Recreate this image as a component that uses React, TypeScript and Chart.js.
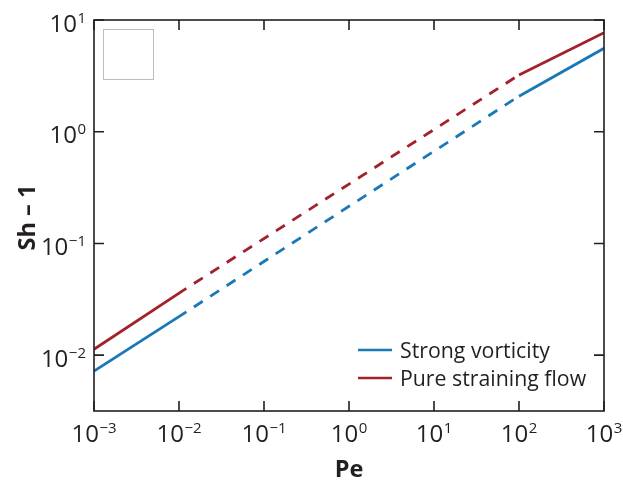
import React, { useEffect, useRef } from "react";
import { Chart, registerables } from "chart.js";

Chart.register(...registerables);

// ---- data ----
const pe = [1e-3, 1.22e-2, 1, 1e2, 1e3];
const strongVorticity = [0.0072, 0.0244, 0.215, 2.08, 5.58];
const pureStraining = [0.0113, 0.0396, 0.34, 3.22, 7.7];
// segment i joins pe[i] and pe[i+1]; true = dashed (asymptotic/interpolated part)
const dashedSegment = [false, true, true, false];
const seriesLabels = ["Strong vorticity", "Pure straining flow"];
const xTickExponents = [-3, -2, -1, 0, 1, 2, 3];
const yTickExponents = [-2, -1, 0, 1];
const xTitle = "Pe";
const yTitle = "Sh – 1";

const INK = "#231f20";
const BLUE = "#1a78b6";
const RED = "#a3212b";
const FONT = '"Open Sans", "Noto Sans", sans-serif';

function expText(e: number) {
  return e < 0 ? "\u2212" + Math.abs(e) : String(e);
}

function drawPower(ctx: CanvasRenderingContext2D, e: number, x: number, baseline: number, align: "center" | "right") {
  const base = "10";
  const sup = expText(e);
  ctx.font = `24px ${FONT}`;
  const wb = ctx.measureText(base).width;
  ctx.font = `15px ${FONT}`;
  const ws = ctx.measureText(sup).width;
  const gap = 0.5;
  const total = wb + gap + ws;
  const start = align === "center" ? x - total / 2 : x - total;
  ctx.textAlign = "left";
  ctx.textBaseline = "alphabetic";
  ctx.font = `24px ${FONT}`;
  ctx.fillText(base, start, baseline);
  ctx.font = `15px ${FONT}`;
  ctx.fillText(sup, start + wb + gap, baseline - 9);
}

const decorPlugin = {
  id: "decor",
  afterDatasetsDraw(chart: any) {
    const { ctx, chartArea: a, scales } = chart;
    const xs = scales.x;
    const ys = scales.y;
    ctx.save();

    // small empty box at top-left
    ctx.strokeStyle = "#bdbdbd";
    ctx.lineWidth = 1;
    ctx.strokeRect(a.left + 9.5, a.top + 9.5, 50, 50);

    // frame
    ctx.strokeStyle = INK;
    ctx.lineWidth = 1.6;
    ctx.strokeRect(a.left, a.top, a.right - a.left, a.bottom - a.top);

    // inward ticks, mirrored
    const T = 10;
    ctx.beginPath();
    xTickExponents.forEach((e) => {
      const px = xs.getPixelForValue(10 ** e);
      ctx.moveTo(px, a.bottom);
      ctx.lineTo(px, a.bottom - T);
      ctx.moveTo(px, a.top);
      ctx.lineTo(px, a.top + T);
    });
    yTickExponents.forEach((e) => {
      const py = ys.getPixelForValue(10 ** e);
      ctx.moveTo(a.left, py);
      ctx.lineTo(a.left + T, py);
      ctx.moveTo(a.right, py);
      ctx.lineTo(a.right - T, py);
    });
    ctx.stroke();

    // tick labels
    ctx.fillStyle = INK;
    xTickExponents.forEach((e) => {
      const px = xs.getPixelForValue(10 ** e);
      drawPower(ctx, e, px, a.bottom + 31, "center");
    });
    yTickExponents.forEach((e) => {
      const py = ys.getPixelForValue(10 ** e);
      drawPower(ctx, e, a.left - 8, py + 11.5, "right");
    });

    // axis titles
    ctx.font = `bold 23.5px ${FONT}`;
    ctx.textAlign = "center";
    ctx.textBaseline = "alphabetic";
    ctx.fillText(xTitle, (a.left + a.right) / 2, a.bottom + 66);
    ctx.save();
    ctx.translate(35, (a.top + a.bottom) / 2 + 2);
    ctx.rotate(-Math.PI / 2);
    ctx.fillText(yTitle, 0, 0);
    ctx.restore();

    // legend
    const colors = [BLUE, RED];
    const rowsY = [a.bottom - 61, a.bottom - 33];
    const lx = a.right - 246;
    seriesLabels.forEach((label, i) => {
      const y = rowsY[i];
      ctx.strokeStyle = colors[i];
      ctx.lineWidth = 2.6;
      ctx.beginPath();
      ctx.moveTo(lx, y);
      ctx.lineTo(lx + 34, y);
      ctx.stroke();
      ctx.fillStyle = INK;
      ctx.font = `21.3px ${FONT}`;
      ctx.textAlign = "left";
      ctx.textBaseline = "alphabetic";
      ctx.fillText(label, lx + 42, y + 7.5);
    });

    ctx.restore();
  },
};

function makeDataset(label: string, values: number[], color: string) {
  return {
    label,
    data: pe.map((x, i) => ({ x, y: values[i] })),
    borderColor: color,
    backgroundColor: color,
    borderWidth: 2.8,
    pointRadius: 0,
    fill: false,
    tension: 0,
    segment: {
      borderDash: (c: any) => (dashedSegment[c.p0DataIndex] ? [10.5, 9] : undefined),
      borderDashOffset: (c: any) => (dashedSegment[c.p0DataIndex] ? 10.5 : undefined),
    },
  };
}

export default function App() {
  const ref = useRef<HTMLCanvasElement>(null);
  useEffect(() => {
    if (!ref.current) return;
    const chart = new Chart(ref.current, {
      type: "line",
      data: {
        datasets: [
          makeDataset(seriesLabels[0], strongVorticity, BLUE),
          makeDataset(seriesLabels[1], pureStraining, RED),
        ] as any,
      },
      options: {
        responsive: false,
        animation: false,
        layout: { padding: { left: 94, top: 20, right: 19, bottom: 70 } },
        scales: {
          x: { type: "logarithmic", min: 1e-3, max: 1e3, display: false },
          y: { type: "logarithmic", min: 10 ** -2.5, max: 10, display: false },
        },
        plugins: { legend: { display: false }, tooltip: { enabled: false } },
      } as any,
      plugins: [decorPlugin as any],
    });
    return () => chart.destroy();
  }, []);
  return (
    <div style={{ position: "fixed", left: 0, top: 0, width: 623, height: 481, background: "#fff" }}>
      <canvas ref={ref} width={623} height={481} style={{ display: "block", width: 623, height: 481 }} />
    </div>
  );
}
